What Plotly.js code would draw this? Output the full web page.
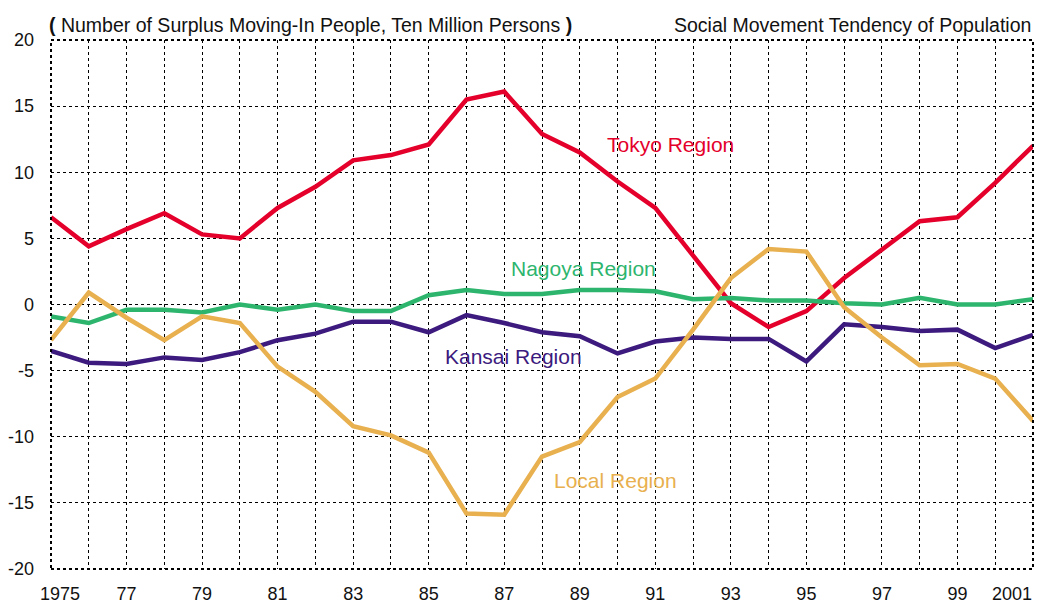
<!DOCTYPE html>
<html>
<head>
<meta charset="utf-8">
<script src="https://cdn.plot.ly/plotly-3.0.1.min.js"></script>
<style>html,body{margin:0;padding:0;background:#fff;}#chart{width:1039px;height:607px;}</style>
</head>
<body>
<div id="chart"></div>
<script>
const years = [1975,1976,1977,1978,1979,1980,1981,1982,1983,1984,1985,1986,1987,1988,1989,1990,1991,1992,1993,1994,1995,1996,1997,1998,1999,2000,2001];
const tokyo  = [6.6,4.4,5.7,6.9,5.3,5.0,7.3,8.9,10.9,11.3,12.1,15.5,16.1,12.9,11.5,9.3,7.3,3.7,0.1,-1.7,-0.5,2.0,4.1,6.3,6.6,9.2,12.0];
const nagoya = [-0.9,-1.4,-0.4,-0.4,-0.6,0.0,-0.4,0.0,-0.5,-0.5,0.7,1.1,0.8,0.8,1.1,1.1,1.0,0.4,0.5,0.3,0.3,0.1,0.0,0.5,0.0,0.0,0.4];
const kansai = [-3.5,-4.4,-4.5,-4.0,-4.2,-3.6,-2.7,-2.2,-1.3,-1.3,-2.1,-0.8,-1.4,-2.1,-2.4,-3.7,-2.8,-2.5,-2.6,-2.6,-4.3,-1.5,-1.7,-2.0,-1.9,-3.3,-2.3];
const local  = [-2.7,0.9,-1.0,-2.7,-0.9,-1.4,-4.7,-6.6,-9.2,-9.9,-11.2,-15.8,-15.9,-11.5,-10.4,-7.0,-5.6,-1.9,2.0,4.2,4.0,-0.2,-2.5,-4.6,-4.5,-5.6,-8.8];
const seriesNames = ["Tokyo Region","Nagoya Region","Kansai Region","Local Region"];
const colors = ["#e4002b","#2db56e","#3c1a7e","#e8b04e"];
const labelPos = [[1991.4,12.1],[1989.1,2.7],[1987.25,-3.9],[1989.95,-13.3]];
const xTickVals = [1977,1979,1981,1983,1985,1987,1989,1991,1993,1995,1997,1999];
const xTickText = ["77","79","81","83","85","87","89","91","93","95","97","99"];
const xEndTicks = [[1975,"1975"],[2001,"2001"]];
const yTickVals = [-20,-15,-10,-5,0,5,10,15,20];
const yTickText = ["-20","-15","-10","-5","0","5","10","15","20"];

const F = "Liberation Sans, Arial, sans-serif";
const data = [tokyo,nagoya,kansai,local].map((v,i)=>({
  x: years, y: v, type:"scatter", mode:"lines", name: seriesNames[i],
  line:{color:colors[i], width:4.5}, hoverinfo:"skip"
}));

const annotations = seriesNames.map((n,i)=>({
  x: labelPos[i][0], y: labelPos[i][1], xref:"x", yref:"y", text:n, showarrow:false,
  font:{family:F, size:21, color:colors[i]}
}));
annotations.push({xref:"paper", yref:"paper", x:0, y:1, xanchor:"left", yanchor:"bottom", yshift:2, xshift:-4,
  text:"<b>(</b> Number of Surplus Moving-In People, Ten Million Persons <b>)</b>", showarrow:false,
  font:{family:F, size:19.5, color:"#111"}});
annotations.push({xref:"paper", yref:"paper", x:1, y:1, xanchor:"right", yanchor:"bottom", yshift:2,
  text:"Social Movement Tendency of Population", showarrow:false,
  font:{family:F, size:19.5, color:"#111"}});
annotations.push({xref:"x", yref:"paper", x:xEndTicks[0][0], y:0, xanchor:"left", yanchor:"middle", xshift:-13, yshift:-25,
  text:xEndTicks[0][1], showarrow:false, font:{family:F, size:18, color:"#111"}});
annotations.push({xref:"x", yref:"paper", x:xEndTicks[1][0], y:0, xanchor:"right", yanchor:"middle", xshift:1, yshift:-25,
  text:xEndTicks[1][1], showarrow:false, font:{family:F, size:18, color:"#111"}});

const layout = {
  width:1039, height:607,
  margin:{l:51, r:6, t:40, b:38},
  paper_bgcolor:"#fff", plot_bgcolor:"#fff",
  showlegend:false,
  font:{family:F, size:18, color:"#111"},
  xaxis:{range:[1975,2001], showgrid:true, gridcolor:"#000", gridwidth:1, griddash:"dot",
    tickmode:"array", tickvals:years, ticktext:years.map(y=>{const k=xTickVals.indexOf(y); return k>=0?xTickText[k]:"";}),
    zeroline:false, showline:false, ticks:"", ticklabelstandoff:12, ticklabeloverflow:"allow", tickfont:{family:F,size:18,color:"#111"}},
  yaxis:{range:[-20,20], tickmode:"array", tickvals:yTickVals, ticktext:yTickText, showgrid:true, gridcolor:"#000", gridwidth:1, griddash:"dot",
    zeroline:false, showline:false, ticks:"", ticklabelstandoff:16, ticklabeloverflow:"allow", tickfont:{family:F,size:18,color:"#111"}},
  shapes:[{type:"rect", xref:"paper", yref:"paper", x0:0, x1:1, y0:0, y1:1, line:{color:"#000", width:2, dash:"dot"}, layer:"above"}],
  annotations: annotations
};
Plotly.newPlot("chart", data, layout, {displayModeBar:false, staticPlot:true});
</script>
</body>
</html>
